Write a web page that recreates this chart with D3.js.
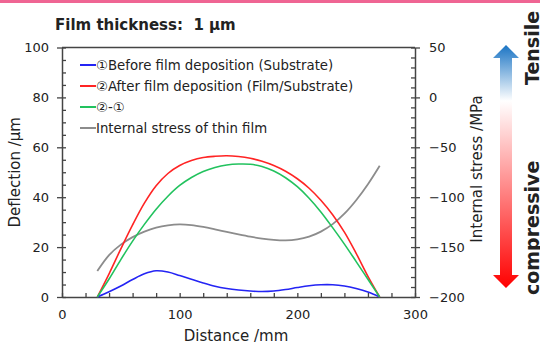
<!DOCTYPE html>
<html>
<head>
<meta charset="utf-8">
<script src="https://cdn.jsdelivr.net/npm/d3@7"></script>
<style>
  body { margin: 0; background: #fff; }
  svg text { font-family: "DejaVu Sans", Verdana, sans-serif; fill: #222; }
</style>
</head>
<body>
<div id="chart"></div>
<script>
// distance along the wafer (mm)
const distance = [30, 40, 50, 60, 70, 80, 90, 100, 110, 120, 130, 140, 150,
  160, 170, 180, 190, 200, 210, 220, 230, 240, 250, 260, 270];

// deflection (um)
const beforeDep = [0, 2.1, 4.4, 7.0, 9.3, 10.5, 10.0, 8.6, 7.1, 5.6, 4.3, 3.4, 2.8,
  2.4, 2.2, 2.4, 3.0, 3.8, 4.5, 4.9, 4.9, 4.4, 3.4, 2.0, 0];
const afterDep = [0, 9.3, 19.3, 28.9, 37.6, 44.6, 49.5, 52.7, 54.7, 55.9, 56.4, 56.6, 56.3,
  55.6, 54.4, 52.7, 50.4, 47.4, 43.6, 38.8, 33.0, 26.0, 17.5, 8.3, 0];
const diffDep = [0, 7.2, 15.0, 22.4, 29.1, 35.2, 40.4, 44.7, 47.9, 50.3, 51.9, 52.9, 53.3,
  53.2, 52.3, 50.5, 47.8, 44.2, 39.6, 34.1, 27.8, 21.2, 14.2, 7.1, 0];

// internal stress (MPa), right axis
const stress = [-174, -158, -147.5, -140, -134.5, -130.5, -128.2, -127.3, -128, -129.8,
  -132.2, -134.8, -137.3, -139.6, -141.5, -142.8, -143.3, -142.3, -139.5, -134.5, -127,
  -116.5, -103, -87, -68.5];

const legendLabels = [
  "\u2460Before film deposition (Substrate)",
  "\u2461After film deposition (Film/Substrate)",
  "\u2461-\u2460",
  "Internal stress of thin film"
];
const lineColors = ["#2424f4", "#ff2424", "#22c25e", "#8c8c8c"];

const xTicks = [0, 100, 200, 300];
const yTicks = [0, 20, 40, 60, 80, 100];
const y2Ticks = [-200, -150, -100, -50, 0, 50];

const width = 540, height = 345;
const plot = { left: 62, right: 415, top: 47.5, bottom: 297 };
const axisColor = "#444";

const svg = d3.select("#chart").append("svg")
  .attr("width", width).attr("height", height);

svg.append("rect").attr("width", width).attr("height", height).attr("fill", "#fff");
svg.append("rect").attr("width", width).attr("height", 3).attr("fill", "#ef6593");

const x = d3.scaleLinear().domain([0, 300]).range([plot.left, plot.right]);
const y = d3.scaleLinear().domain([0, 100]).range([plot.bottom, plot.top]);
const y2 = d3.scaleLinear().domain([-200, 50]).range([plot.bottom, plot.top]);

// frame
svg.append("line")
  .attr("x1", plot.left).attr("x2", plot.right)
  .attr("y1", plot.top).attr("y2", plot.top)
  .attr("stroke", axisColor).attr("stroke-width", 1.5);

const styleAxis = (g) => {
  g.selectAll("path.domain").attr("stroke", axisColor).attr("stroke-width", 1.5);
  g.selectAll(".tick line").attr("stroke", axisColor).attr("stroke-width", 1.3);
  g.selectAll(".tick text").attr("font-size", "13px")
    .attr("font-family", "\"DejaVu Sans\", sans-serif").attr("fill", "#222");
};

// left axis
svg.append("g")
  .attr("transform", `translate(${plot.left},0)`)
  .call(d3.axisLeft(y).tickValues(yTicks).tickSizeInner(5).tickSizeOuter(0).tickPadding(8))
  .call(styleAxis);
svg.append("g")
  .attr("transform", `translate(${plot.left},0)`)
  .call(d3.axisRight(y).tickValues(d3.range(0, 101, 5)).tickSize(4).tickFormat(""))
  .call(styleAxis)
  .select(".domain").remove();

// right axis
svg.append("g")
  .attr("transform", `translate(${plot.right},0)`)
  .call(d3.axisRight(y2).tickValues(y2Ticks).tickSizeInner(5).tickSizeOuter(0).tickPadding(9))
  .call(styleAxis);
svg.append("g")
  .attr("transform", `translate(${plot.right},0)`)
  .call(d3.axisLeft(y2).tickValues(d3.range(-200, 51, 10)).tickSize(4).tickFormat(""))
  .call(styleAxis)
  .select(".domain").remove();

// bottom axis
svg.append("g")
  .attr("transform", `translate(0,${plot.bottom})`)
  .call(d3.axisBottom(x).tickValues(xTicks).tickSize(0).tickPadding(13))
  .call(styleAxis);
svg.append("g")
  .attr("transform", `translate(0,${plot.bottom})`)
  .call(d3.axisTop(x).tickValues(d3.range(0, 301, 20)).tickSize(4).tickFormat(""))
  .call(styleAxis)
  .select(".domain").remove();

// lines
const line = d3.line()
  .x((d) => x(d[0]))
  .y((d) => y(d[1]))
  .curve(d3.curveCatmullRom.alpha(0.5));
const line2 = d3.line()
  .x((d) => x(d[0]))
  .y((d) => y2(d[1]))
  .curve(d3.curveCatmullRom.alpha(0.5));

const series = [beforeDep, afterDep, diffDep];
svg.append("path")
  .attr("d", line2(d3.zip(distance, stress)))
  .attr("fill", "none").attr("stroke", lineColors[3]).attr("stroke-width", 1.8);
series.forEach((vals, i) => {
  svg.append("path")
    .attr("d", line(d3.zip(distance, vals)))
    .attr("fill", "none").attr("stroke", lineColors[i]).attr("stroke-width", 1.6);
});

// legend
const legend = svg.append("g").attr("transform", "translate(80,65)");
legendLabels.forEach((label, i) => {
  const row = legend.append("g").attr("transform", `translate(0,${i * 21})`);
  row.append("line").attr("x1", 0).attr("x2", 16)
    .attr("stroke", lineColors[i]).attr("stroke-width", 2);
  row.append("text").attr("x", 16).attr("dy", "0.35em")
    .attr("font-size", "13.3px").text(label);
});

// title
svg.append("text")
  .attr("x", 55).attr("y", 30)
  .attr("font-size", "15px").attr("font-weight", "bold")
  .style("white-space", "pre")
  .text("Film thickness:  1 \u03bcm");

// axis titles
svg.append("text")
  .attr("transform", `translate(20,${(plot.top + plot.bottom) / 2}) rotate(-90)`)
  .attr("text-anchor", "middle").attr("font-size", "15px")
  .text("Deflection /\u03bcm");
svg.append("text")
  .attr("x", 236).attr("y", 341)
  .attr("text-anchor", "middle").attr("font-size", "15px")
  .text("Distance /mm");
svg.append("text")
  .attr("transform", `translate(482,169) rotate(-90)`)
  .attr("text-anchor", "middle").attr("font-size", "15px")
  .text("Internal stress /MPa");

// stress direction arrow
const grad = svg.append("defs").append("linearGradient")
  .attr("id", "stressGrad").attr("gradientUnits", "userSpaceOnUse")
  .attr("x1", 0).attr("x2", 0).attr("y1", 45).attr("y2", 288);
[[0, "#1a74c4"], [0.23, "#ffffff"], [1, "#ff0000"]].forEach(([o, c]) => {
  grad.append("stop").attr("offset", o).attr("stop-color", c);
});
const arrowX = 506, arrowTop = 45, arrowBot = 288, headLen = 13, headHalf = 13, shaftHalf = 6;
svg.append("path")
  .attr("d", `M${arrowX},${arrowTop} L${arrowX + headHalf},${arrowTop + headLen}
    L${arrowX + shaftHalf},${arrowTop + headLen} L${arrowX + shaftHalf},${arrowBot - headLen}
    L${arrowX + headHalf},${arrowBot - headLen} L${arrowX},${arrowBot}
    L${arrowX - headHalf},${arrowBot - headLen} L${arrowX - shaftHalf},${arrowBot - headLen}
    L${arrowX - shaftHalf},${arrowTop + headLen} L${arrowX - headHalf},${arrowTop + headLen} Z`)
  .attr("fill", "url(#stressGrad)");

// labels run off the right edge, as in the original
svg.append("text")
  .attr("transform", "translate(539,85) rotate(-90)")
  .attr("font-size", "19px").attr("font-weight", "bold").attr("fill", "#000")
  .text("Tensile");
svg.append("text")
  .attr("transform", "translate(539,295) rotate(-90)")
  .attr("font-size", "19px").attr("font-weight", "bold").attr("fill", "#000")
  .text("compressive");
</script>
</body>
</html>
